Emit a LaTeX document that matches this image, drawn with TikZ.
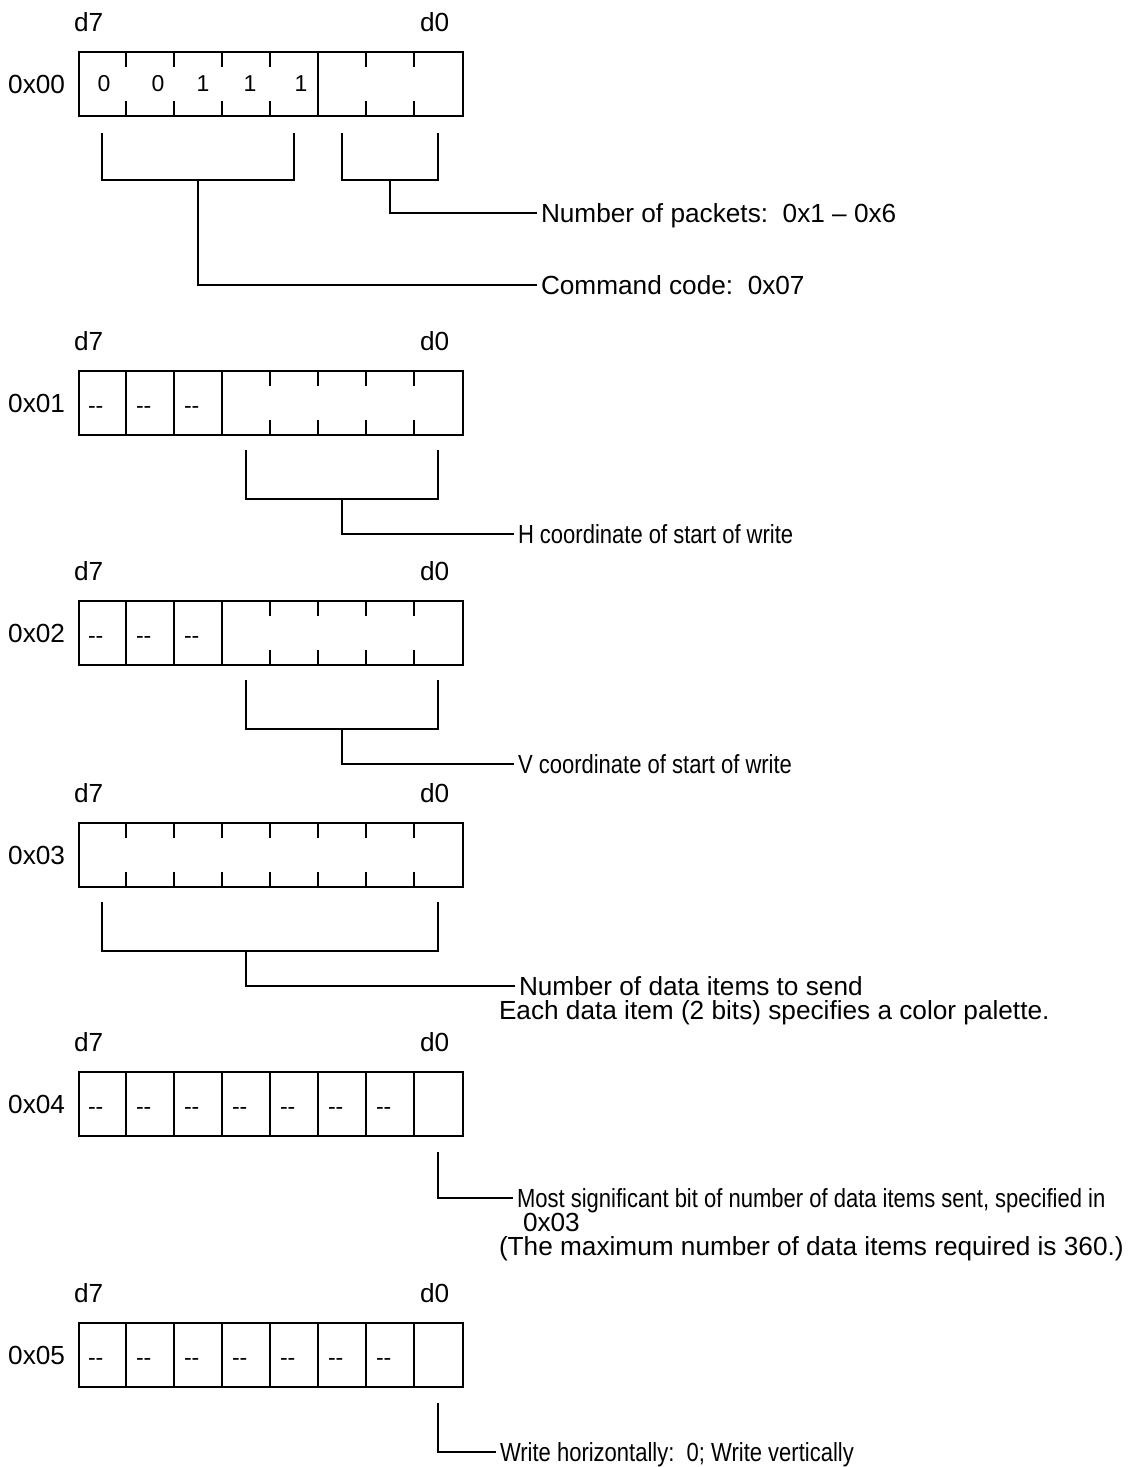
\documentclass[tikz,border=0pt]{standalone}
\usepackage{fontspec}
\setmainfont{Liberation Sans}
\newfontfamily\narrowfont{Liberation Sans}[FakeStretch=0.84]
\usetikzlibrary{positioning, calc}

\begin{document}
\begin{tikzpicture}[
    x=0.5pt, y=-0.5pt,
    line width=1pt,
    reg/.style={rectangle, draw, minimum width=192pt, minimum height=32pt, inner sep=0pt, anchor=north west},
    addr/.style={anchor=east, inner sep=0pt, font=\fontsize{13.1}{15}\selectfont},
    bitno/.style={anchor=west, inner sep=0pt, font=\fontsize{13.1}{15}\selectfont},
    bitval/.style={inner sep=0pt, font=\fontsize{11.5}{13}\selectfont},
    unused/.style={anchor=west, inner sep=0pt, font=\fontsize{11.5}{13}\selectfont},
    note/.style={anchor=west, inner ysep=0pt, inner xsep=0pt, outer xsep=2pt, text height=11.8pt, text depth=2.4pt, font=\fontsize{13.1}{15}\selectfont},
    narrownote/.style={note, font=\narrowfont\fontsize{13.1}{15}\selectfont}
]
\useasboundingbox (0,0) rectangle (1129,1467);

% Register 0x00
\node[reg] (r0) at (78,51) {};
\node[addr] (a0) at ([xshift=-6pt]r0.west) {0x00};
\node[bitno] (h0) at ([xshift=-2.5pt,yshift=14.5pt]r0.north west) {d7};
\node[bitno] (l0) at ([xshift=-22.5pt,yshift=14.5pt]r0.north east) {d0};
\foreach \k in {1,2,3,4,6,7} {
  \draw ([xshift=\k*24pt]r0.north west) -- ++(0,16);
  \draw ([xshift=\k*24pt]r0.south west) -- ++(0,-16);
}
\draw ([xshift=120pt]r0.north west) -- ([xshift=120pt]r0.south west);
\foreach \v/\x in {0/104,0/158,1/203,1/250,1/301}
  \node[bitval] (v0-\x) at (\x,84) {\v};

% Brackets of 0x00
\draw (102,133) |- (294,180) -- (294,133);
\draw (342,133) |- (438,180) -- (438,133);
\coordinate (cmdstem) at (198,180);
\coordinate (pktstem) at (390,180);
\node[note] (pkt) at (537,213) {Number of packets:\ \ 0x1 – 0x6};
\node[note] (cmd) at (537,285) {Command code:\ \ 0x07};
\draw (pktstem) |- (pkt);
\draw (cmdstem) |- (cmd);

% Register 0x01
\node[reg] (r1) at (78,370) {};
\node[addr] (a1) at ([xshift=-6pt]r1.west) {0x01};
\node[bitno] (h1) at ([xshift=-2.5pt,yshift=14.5pt]r1.north west) {d7};
\node[bitno] (l1) at ([xshift=-22.5pt,yshift=14.5pt]r1.north east) {d0};
\foreach \k in {1,2,3}
  \draw ([xshift=\k*24pt]r1.north west) -- ([xshift=\k*24pt]r1.south west);
\foreach \k in {4,...,7} {
  \draw ([xshift=\k*24pt]r1.north west) -- ++(0,16);
  \draw ([xshift=\k*24pt]r1.south west) -- ++(0,-16);
}
\foreach \k in {0,1,2}
  \node[unused] (u1-\k) at ([xshift=\k*24pt+4.5pt,yshift=-3.3pt]r1.west) {-{}-};
\draw (246,450) |- (438,499) -- (438,450);
\coordinate (hstem) at (342,499);
\node[narrownote] (hco) at (514,534) {H coordinate of start of write};
\draw (hstem) |- (hco);

% Register 0x02
\node[reg] (r2) at (78,600) {};
\node[addr] (a2) at ([xshift=-6pt]r2.west) {0x02};
\node[bitno] (h2) at ([xshift=-2.5pt,yshift=14.5pt]r2.north west) {d7};
\node[bitno] (l2) at ([xshift=-22.5pt,yshift=14.5pt]r2.north east) {d0};
\foreach \k in {1,2,3}
  \draw ([xshift=\k*24pt]r2.north west) -- ([xshift=\k*24pt]r2.south west);
\foreach \k in {4,...,7} {
  \draw ([xshift=\k*24pt]r2.north west) -- ++(0,16);
  \draw ([xshift=\k*24pt]r2.south west) -- ++(0,-16);
}
\foreach \k in {0,1,2}
  \node[unused] (u2-\k) at ([xshift=\k*24pt+4.5pt,yshift=-3.3pt]r2.west) {-{}-};
\draw (246,680) |- (438,729) -- (438,680);
\coordinate (vstem) at (342,729);
\node[narrownote] (vco) at (514,764) {V coordinate of start of write};
\draw (vstem) |- (vco);

% Register 0x03
\node[reg] (r3) at (78,822) {};
\node[addr] (a3) at ([xshift=-6pt]r3.west) {0x03};
\node[bitno] (h3) at ([xshift=-2.5pt,yshift=14.5pt]r3.north west) {d7};
\node[bitno] (l3) at ([xshift=-22.5pt,yshift=14.5pt]r3.north east) {d0};
\foreach \k in {1,...,7} {
  \draw ([xshift=\k*24pt]r3.north west) -- ++(0,16);
  \draw ([xshift=\k*24pt]r3.south west) -- ++(0,-16);
}
\draw (102,902) |- (438,951) -- (438,902);
\coordinate (cntstem) at (246,951);
\node[note] (cnt) at (515,986) {Number of data items to send};
\node[note] (cnt2) at (495,1010) {Each data item (2 bits) specifies a color palette.};
\draw (cntstem) |- (cnt);

% Register 0x04
\node[reg] (r4) at (78,1071) {};
\node[addr] (a4) at ([xshift=-6pt]r4.west) {0x04};
\node[bitno] (h4) at ([xshift=-2.5pt,yshift=14.5pt]r4.north west) {d7};
\node[bitno] (l4) at ([xshift=-22.5pt,yshift=14.5pt]r4.north east) {d0};
\foreach \k in {1,...,7}
  \draw ([xshift=\k*24pt]r4.north west) -- ([xshift=\k*24pt]r4.south west);
\foreach \k in {0,...,6}
  \node[unused] (u4-\k) at ([xshift=\k*24pt+4.5pt,yshift=-3.3pt]r4.west) {-{}-};
\coordinate (msbstem) at (438,1152);
\node[narrownote] (msb) at (513,1198) {Most significant bit of number of data items sent, specified in};
\node[note] (msb2) at (519,1222) {0x03};
\node[note] (msb3) at (495,1246) {(The maximum number of data items required is 360.)};
\draw (msbstem) |- (msb);

% Register 0x05
\node[reg] (r5) at (78,1322) {};
\node[addr] (a5) at ([xshift=-6pt]r5.west) {0x05};
\node[bitno] (h5) at ([xshift=-2.5pt,yshift=14.5pt]r5.north west) {d7};
\node[bitno] (l5) at ([xshift=-22.5pt,yshift=14.5pt]r5.north east) {d0};
\foreach \k in {1,...,7}
  \draw ([xshift=\k*24pt]r5.north west) -- ([xshift=\k*24pt]r5.south west);
\foreach \k in {0,...,6}
  \node[unused] (u5-\k) at ([xshift=\k*24pt+4.5pt,yshift=-3.3pt]r5.west) {-{}-};
\coordinate (dirstem) at (438,1403);
\node[narrownote] (dir) at (496,1452) {Write horizontally:\ \ 0; Write vertically};
\draw (dirstem) |- (dir);

\end{tikzpicture}
\end{document}
